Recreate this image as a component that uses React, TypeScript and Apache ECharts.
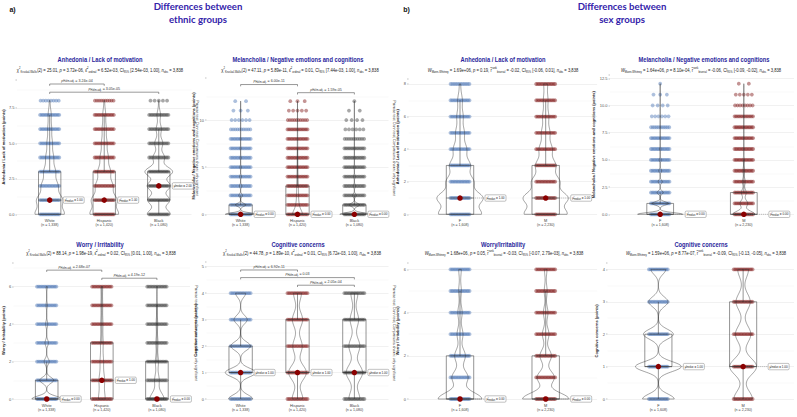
import React, { useEffect, useRef } from "react";
import * as echarts from "echarts";

const FONT = "'Liberation Sans', Arial, sans-serif";
const HEAD_FONT = "Lato, 'Open Sans', sans-serif";

const ETHNIC_GROUPS = ["White", "Hispanic", "Black"];
const SEX_GROUPS = ["F", "M"];

// respondents at each score (array index = score), one row per group
const anhedoniaByEthnicity = [
  [380, 330, 210, 150, 100, 70, 50, 40, 8],
  [390, 340, 230, 170, 110, 75, 55, 40, 10],
  [200, 190, 200, 240, 100, 70, 45, 30, 5],
];
const melancholiaByEthnicity = [
  [752, 262, 92, 62, 46, 36, 28, 22, 17, 10, 6, 3, 2],
  [720, 200, 130, 110, 72, 52, 42, 32, 26, 18, 10, 5, 3],
  [602, 220, 80, 50, 40, 30, 20, 15, 10, 6, 4, 2, 1],
];
const worryByEthnicity = [
  [700, 330, 120, 80, 50, 30, 28],
  [400, 330, 200, 160, 130, 100, 100],
  [560, 180, 120, 80, 60, 40, 40],
];
const cognitiveByEthnicity = [
  [330, 420, 270, 180, 138],
  [270, 450, 240, 260, 200],
  [220, 330, 220, 170, 140],
];
const anhedoniaBySex = [
  [405, 430, 255, 195, 125, 82, 60, 44, 12],
  [560, 580, 360, 260, 170, 110, 80, 60, 50],
];
const melancholiaBySex = [
  [900, 330, 122, 82, 57, 42, 30, 20, 11, 6, 4, 3, 1],
  [1150, 400, 250, 150, 90, 60, 45, 35, 22, 13, 8, 5, 2],
];
const worryBySex = [
  [820, 300, 200, 110, 80, 50, 48],
  [1130, 420, 280, 160, 110, 70, 60],
];
const cognitiveBySex = [
  [360, 520, 340, 220, 168],
  [480, 700, 400, 370, 280],
];

// significant pairwise Dunn tests: group a, group b, Holm-adjusted p
const anhedoniaEthnicPairs: [number, number, string][] = [[0, 1, "3.24e-04"], [0, 2, "3.05e-05"]];
const melancholiaEthnicPairs: [number, number, string][] = [[0, 1, "6.00e-11"], [1, 2, "1.59e-05"]];
const worryEthnicPairs: [number, number, string][] = [[0, 1, "2.68e-07"], [1, 2, "4.19e-12"]];
const cognitiveEthnicPairs: [number, number, string][] = [[0, 1, "6.92e-11"], [0, 2, "0.03"], [1, 2, "2.05e-04"]];

// omnibus tests: statistic, p, effect size, CI low, CI high
const kruskalAnhedonia = ["25.01", "3.72e-06", "6.52e-03", "2.54e-03", "1.00"];
const kruskalMelancholia = ["47.11", "5.89e-11", "0.01", "7.44e-03", "1.00"];
const kruskalWorry = ["88.14", "1.98e-19", "0.02", "0.01", "1.00"];
const kruskalCognitive = ["44.78", "1.89e-10", "0.01", "6.72e-03", "1.00"];
const mannWhitneyAnhedonia = ["1.69e+06", "0.19", "-0.02", "-0.06", "0.01"];
const mannWhitneyMelancholia = ["1.64e+06", "8.10e-04", "-0.06", "-0.09", "-0.02"];
const mannWhitneyWorry = ["1.68e+06", "0.05", "-0.03", "-0.07", "2.79e-03"];
const mannWhitneyCognitive = ["1.59e+06", "8.77e-07", "-0.09", "-0.13", "-0.05"];

const ETHNIC_COLORS = ["#4a73b3", "#7c1111", "#3d3d3d"];
const SEX_COLORS = ["#4a73b3", "#7c1111"];

const sum = (a: number[]) => a.reduce((s, v) => s + v, 0);
const fmtN = (n: number) => n.toLocaleString("en-US");

function valueAtRank(c: number[], idx: number) {
  let cum = 0;
  for (let k = 0; k < c.length; k++) {
    cum += c[k];
    if (idx < cum) return k;
  }
  return c.length - 1;
}
function quantile(c: number[], p: number) {
  const h = (sum(c) - 1) * p;
  const lo = Math.floor(h);
  const a = valueAtRank(c, lo);
  const b = valueAtRank(c, lo + 1);
  return a + (h - lo) * (b - a);
}
function describe(c: number[]) {
  const n = sum(c);
  const mean = c.reduce((s, v, k) => s + v * k, 0) / n;
  const sd = Math.sqrt(c.reduce((s, v, k) => s + v * (k - mean) ** 2, 0) / (n - 1));
  const q1 = quantile(c, 0.25);
  const med = quantile(c, 0.5);
  const q3 = quantile(c, 0.75);
  const iqr = q3 - q1;
  const levels = c.map((v, k) => (v > 0 ? k : -1)).filter((k) => k >= 0);
  const lo = Math.min(...levels.filter((k) => k >= q1 - 1.5 * iqr));
  const hi = Math.max(...levels.filter((k) => k <= q3 + 1.5 * iqr));
  // Silverman's rule of thumb (R's bw.nrd0)
  const bw = 0.9 * Math.min(sd, iqr / 1.34) * Math.pow(n, -0.2);
  return { n, q1, med, q3, lo, hi, bw, min: levels[0], max: levels[levels.length - 1] };
}
function kde(c: number[], bw: number, y: number) {
  const n = sum(c);
  let d = 0;
  for (let k = 0; k < c.length; k++) d += c[k] * Math.exp(-0.5 * ((y - k) / bw) ** 2);
  return d / (n * bw * Math.sqrt(2 * Math.PI));
}
function violinProfile(c: number[]) {
  const s = describe(c);
  const steps = 160;
  const pts: [number, number][] = [];
  for (let j = 0; j <= steps; j++) {
    const y = s.min + ((s.max - s.min) * j) / steps;
    pts.push([y, kde(c, s.bw, y)]);
  }
  return pts;
}

type Seg = [string, string];
const rich = (segs: Seg[]) => segs.map(([k, t]) => `{${k}|${t}}`).join("");

function kruskalLine(r: string[], n: number): Seg[] {
  return [
    ["t", "χ"], ["sp", "2"], ["sb", "Kruskal-Wallis"], ["t", `(2) = ${r[0]}, `],
    ["i", "p"], ["t", ` = ${r[1]}, `], ["t", "ε̂"], ["sp", "2"], ["sb", "ordinal"],
    ["t", ` = ${r[2]}, CI`], ["sb", "95%"], ["t", ` [${r[3]}, ${r[4]}], `],
    ["i", "n"], ["sb", "obs"], ["t", ` = ${fmtN(n)}`],
  ];
}
function mannWhitneyLine(r: string[], n: number): Seg[] {
  return [
    ["i", "W"], ["sb", "Mann-Whitney"], ["t", ` = ${r[0]}, `],
    ["i", "p"], ["t", ` = ${r[1]}, `], ["t", "r̂"], ["sp", "rank"], ["sb", "biserial"],
    ["t", ` = ${r[2]}, CI`], ["sb", "95%"], ["t", ` [${r[3]}, ${r[4]}], `],
    ["i", "n"], ["sb", "obs"], ["t", ` = ${fmtN(n)}`],
  ];
}

const SUB_RICH = {
  t: { fontSize: 5.3, fill: "#222", fontFamily: FONT, lineHeight: 7.5, verticalAlign: "middle" },
  i: { fontSize: 5.3, fill: "#222", fontFamily: FONT, fontStyle: "italic", lineHeight: 7.5, verticalAlign: "middle" },
  sb: { fontSize: 3.4, fill: "#222", fontFamily: FONT, lineHeight: 3.8, verticalAlign: "bottom" },
  sp: { fontSize: 3.4, fill: "#222", fontFamily: FONT, lineHeight: 3.8, verticalAlign: "top" },
};
const P_RICH = {
  t: { fontSize: 3.6, fill: "#333", fontFamily: FONT, lineHeight: 5, verticalAlign: "middle" },
  i: { fontSize: 3.6, fill: "#333", fontFamily: FONT, fontStyle: "italic", lineHeight: 5, verticalAlign: "middle" },
  s: { fontSize: 2.6, fill: "#333", fontFamily: FONT, lineHeight: 2.8, verticalAlign: "bottom" },
};
const M_RICH = {
  t: { fontSize: 3.7, fill: "#222", fontFamily: FONT, lineHeight: 5, verticalAlign: "middle" },
  s: { fontSize: 2.6, fill: "#222", fontFamily: FONT, lineHeight: 2.9, verticalAlign: "bottom" },
};

interface Panel {
  title: string;
  yName: string;
  groups: string[];
  counts: number[][];
  colors: string[];
  pairs: [number, number, string][];
  subtitle: Seg[];
  dunnCaption: boolean;
  grid: { left: number; top: number; width: number; height: number };
  yMax: number;
  yStep: number;
  yDecimals: number;
  titlePos: [number, number];
  subPos: [number, number];
  captionPos?: [number, number];
  boxHalf: number;
  jitterHalf: number;
  labelOffset: number;
}

const ethnicLook = { groups: ETHNIC_GROUPS, colors: ETHNIC_COLORS, dunnCaption: true, boxHalf: 0.205, jitterHalf: 0.19, labelOffset: 13.5 };
const sexLook = { groups: SEX_GROUPS, colors: SEX_COLORS, dunnCaption: false, pairs: [] as [number, number, string][], boxHalf: 0.16, jitterHalf: 0.12, labelOffset: 25 };

const PANELS: Panel[] = [
  {
    ...ethnicLook, title: "Anhedonia / Lack of motivation", yName: "Anhedonia / Lack of motivation (points)",
    counts: anhedoniaByEthnicity, pairs: anhedoniaEthnicPairs,
    subtitle: kruskalLine(kruskalAnhedonia, sum(anhedoniaByEthnicity.map(sum))),
    grid: { left: 9.5, top: 79.4, width: 182, height: 134.9 }, yMax: 9.5, yStep: 2.5, yDecimals: 1,
    titlePos: [100, 59], subPos: [100, 70], captionPos: [196.5, 148],
  },
  {
    ...ethnicLook, title: "Melancholia / Negative emotions and cognitions", yName: "Melancholia / Negative emotions and cognitions (points)",
    counts: melancholiaByEthnicity, pairs: melancholiaEthnicPairs,
    subtitle: kruskalLine(kruskalMelancholia, sum(melancholiaByEthnicity.map(sum))),
    grid: { left: 206.5, top: 77.6, width: 182, height: 136.7 }, yMax: 14.5, yStep: 5, yDecimals: 0,
    titlePos: [298, 59], subPos: [300, 70], captionPos: [394, 148],
  },
  {
    ...ethnicLook, title: "Worry / Irritability", yName: "Worry / Irritability (points)",
    counts: worryByEthnicity, pairs: worryEthnicPairs,
    subtitle: kruskalLine(kruskalWorry, sum(worryByEthnicity.map(sum))),
    grid: { left: 8, top: 262.3, width: 182, height: 136.7 }, yMax: 7.3, yStep: 2, yDecimals: 0,
    titlePos: [100, 244], subPos: [101, 253], captionPos: [195.5, 333],
  },
  {
    ...ethnicLook, title: "Cognitive concerns", yName: "Cognitive concerns (points)",
    counts: cognitiveByEthnicity, pairs: cognitiveEthnicPairs,
    subtitle: kruskalLine(kruskalCognitive, sum(cognitiveByEthnicity.map(sum))),
    grid: { left: 206.5, top: 261.4, width: 182, height: 137.6 }, yMax: 5.2, yStep: 1, yDecimals: 0,
    titlePos: [298, 244], subPos: [302, 253], captionPos: [394, 333],
  },
  {
    ...sexLook, title: "Anhedonia / Lack of motivation", yName: "Anhedonia / Lack of motivation (points)",
    counts: anhedoniaBySex,
    subtitle: mannWhitneyLine(mannWhitneyAnhedonia, sum(anhedoniaBySex.map(sum))),
    grid: { left: 408.6, top: 79.1, width: 188.5, height: 135.2 }, yMax: 8.3, yStep: 2, yDecimals: 0,
    titlePos: [503, 59], subPos: [503, 70],
  },
  {
    ...sexLook, title: "Melancholia / Negative emotions and cognitions", yName: "Melancholia / Negative emotions and cognitions (points)",
    counts: melancholiaBySex,
    subtitle: mannWhitneyLine(mannWhitneyMelancholia, sum(melancholiaBySex.map(sum))),
    grid: { left: 610, top: 75, width: 186, height: 139.3 }, yMax: 12.8, yStep: 2.5, yDecimals: 1,
    titlePos: [704, 59], subPos: [701, 70],
  },
  {
    ...sexLook, title: "Worry/Irritability", yName: "Worry / Irritability (points)",
    counts: worryBySex,
    subtitle: mannWhitneyLine(mannWhitneyWorry, sum(worryBySex.map(sum))),
    grid: { left: 408.6, top: 262.9, width: 188.5, height: 136.1 }, yMax: 6.3, yStep: 2, yDecimals: 0,
    titlePos: [503, 244], subPos: [504, 253],
  },
  {
    ...sexLook, title: "Cognitive concerns", yName: "Cognitive concerns (points)",
    counts: cognitiveBySex,
    subtitle: mannWhitneyLine(mannWhitneyCognitive, sum(cognitiveBySex.map(sum))),
    grid: { left: 607.5, top: 262.9, width: 188, height: 136.1 }, yMax: 4.2, yStep: 1, yDecimals: 0,
    titlePos: [701, 244], subPos: [706, 253],
  },
];

const VIOLIN_HALF = 0.27;

function panelSeries(p: Panel, i: number) {
  const stats = p.counts.map(describe);
  const profiles = p.counts.map(violinProfile);
  const maxD = Math.max(...profiles.map((pr) => Math.max(...pr.map((q) => q[1]))));
  const axis = { xAxisIndex: i, yAxisIndex: i, coordinateSystem: "cartesian2d" };
  const series: any[] = [];

  // jittered responses, one strip per score level
  const dotData: number[][] = [];
  p.counts.forEach((c, g) => c.forEach((v, k) => { if (v > 0) dotData.push([g + 1, k, v, g]); }));
  series.push({
    type: "custom", ...axis, silent: true, z: 1, encode: { x: 0, y: 1 }, data: dotData,
    renderItem: (_: any, api: any) => {
      const x = api.value(0), y = api.value(1), cnt = api.value(2), g = api.value(3);
      const c = api.coord([x, y]);
      const half = api.size([p.jitterHalf, 0])[0];
      const m = Math.min(cnt, 14);
      const children: any[] = [];
      for (let j = 0; j < m; j++) {
        const cx = c[0] - half + (2 * half * (j + 0.5)) / m;
        children.push({ type: "circle", shape: { cx, cy: c[1], r: 1.9 }, style: { fill: p.colors[g], opacity: 0.45 } });
      }
      return { type: "group", children };
    },
  });

  // box and whiskers
  series.push({
    type: "custom", ...axis, silent: true, z: 2, encode: { x: 0, y: 1 },
    data: stats.map((s, g) => [g + 1, s.med, s.q1, s.q3, s.lo, s.hi]),
    renderItem: (_: any, api: any) => {
      const x = api.value(0);
      const med = api.value(1), q1 = api.value(2), q3 = api.value(3), lo = api.value(4), hi = api.value(5);
      const tl = api.coord([x - p.boxHalf, q3]);
      const br = api.coord([x + p.boxHalf, q1]);
      const m = api.coord([x, med]);
      const top = api.coord([x, hi]);
      const bot = api.coord([x, lo]);
      const ln = { stroke: "#2b2b2b", lineWidth: 0.5, fill: "none" };
      return {
        type: "group",
        children: [
          { type: "rect", shape: { x: tl[0], y: tl[1], width: br[0] - tl[0], height: br[1] - tl[1] }, style: ln },
          { type: "line", shape: { x1: tl[0], y1: m[1], x2: br[0], y2: m[1] }, style: ln },
          { type: "line", shape: { x1: m[0], y1: tl[1], x2: m[0], y2: top[1] }, style: ln },
          { type: "line", shape: { x1: m[0], y1: br[1], x2: m[0], y2: bot[1] }, style: ln },
        ],
      };
    },
  });

  // violins (kernel density, trimmed to the observed range, area-scaled)
  series.push({
    type: "custom", ...axis, silent: true, z: 3, encode: { x: 0, y: 1 },
    data: stats.map((s, g) => [g + 1, s.med, g]),
    renderItem: (_: any, api: any) => {
      const x = api.value(0);
      const prof = profiles[api.value(2)];
      const right = prof.map(([y, d]) => api.coord([x + (d / maxD) * VIOLIN_HALF, y]));
      const left = prof.slice().reverse().map(([y, d]) => api.coord([x - (d / maxD) * VIOLIN_HALF, y]));
      return { type: "polygon", shape: { points: right.concat(left) }, style: { fill: "none", stroke: "#333", lineWidth: 0.45 } };
    },
  });

  // significance brackets
  if (p.pairs.length) {
    const topLevel = Math.max(...stats.map((s) => s.max));
    const m = p.pairs.length;
    series.push({
      type: "custom", ...axis, silent: true, z: 4, encode: { x: 0, y: 2 },
      data: p.pairs.map(([a, b], j) => [a + 1, b + 1, topLevel * (1.075 + 0.072 * (m - 1 - j)), j]),
      renderItem: (_: any, api: any) => {
        const y = api.value(2);
        const A = api.coord([api.value(0), y]);
        const B = api.coord([api.value(1), y]);
        const tip = 1.8;
        const label = p.pairs[api.value(3)][2];
        return {
          type: "group",
          children: [
            { type: "polyline", shape: { points: [[A[0], A[1] + tip], [A[0], A[1]], [B[0], B[1]], [B[0], B[1] + tip]] }, style: { fill: "none", stroke: "#333", lineWidth: 0.5 } },
            {
              type: "text", x: (A[0] + B[0]) / 2, y: A[1] - 0.6,
              style: { text: rich([["i", "p"], ["s", "Holm-adj."], ["t", ` = ${label}`]]), rich: P_RICH, align: "center", verticalAlign: "bottom", textAlign: "center", textVerticalAlign: "bottom" },
            },
          ],
        };
      },
    });
  }

  // medians
  series.push({
    type: "scatter", ...axis, silent: true, z: 5, symbol: "circle", symbolSize: 5.5,
    itemStyle: { color: "#8b0000", opacity: 1 },
    data: stats.map((s, g) => [g + 1, s.med]),
  });

  // median labels
  series.push({
    type: "custom", ...axis, silent: true, z: 6, encode: { x: 0, y: 1 },
    data: stats.map((s, g) => [g + 1, s.med]),
    renderItem: (_: any, api: any) => {
      const med = api.value(1);
      const c = api.coord([api.value(0), med]);
      const x0 = c[0] + p.labelOffset;
      const w = 21, h = 6.4;
      return {
        type: "group",
        children: [
          { type: "line", shape: { x1: c[0] + 3, y1: c[1], x2: x0, y2: c[1] }, style: { stroke: "#666", lineWidth: 0.4, lineDash: [1.2, 0.8] } },
          { type: "rect", shape: { x: x0, y: c[1] - h / 2, width: w, height: h, r: 1.2 }, style: { fill: "#fff", stroke: "#777", lineWidth: 0.45 } },
          {
            type: "text", x: x0 + w / 2, y: c[1], scaleX: 0.82,
            style: { text: rich([["t", "μ̂"], ["s", "median"], ["t", ` = ${med.toFixed(2)}`]]), rich: M_RICH, align: "center", verticalAlign: "middle", textAlign: "center", textVerticalAlign: "middle" },
          },
        ],
      };
    },
  });
  return series;
}

function panelGraphics(p: Panel) {
  const els: any[] = [
    {
      type: "text", x: p.titlePos[0], y: p.titlePos[1], scaleX: 0.82, silent: true,
      style: { text: p.title, fontSize: 7, fontWeight: "bold", fontFamily: FONT, fill: "#2a1f9c", align: "center", verticalAlign: "middle", textAlign: "center", textVerticalAlign: "middle" },
    },
    {
      type: "text", x: p.subPos[0], y: p.subPos[1], scaleX: 0.78, silent: true,
      style: { text: rich(p.subtitle), rich: SUB_RICH, align: "center", verticalAlign: "middle", textAlign: "center", textVerticalAlign: "middle" },
    },
  ];
  if (p.dunnCaption && p.captionPos) {
    els.push({
      type: "text", x: p.captionPos[0], y: p.captionPos[1], rotation: -Math.PI / 2, silent: true,
      style: { text: "Pairwise test: Dunn test; Comparisons shown: only significant", fontSize: 3.5, fontFamily: FONT, fill: "#333", align: "center", verticalAlign: "middle", textAlign: "center", textVerticalAlign: "middle" },
    });
  }
  return els;
}

function headerGraphics() {
  const head = (x: number, y: number, text: string) => ({
    type: "text", x, y, silent: true,
    style: { text, fontSize: 9.6, fontWeight: "bold", fontFamily: HEAD_FONT, fill: "#3322aa", align: "center", verticalAlign: "middle", textAlign: "center", textVerticalAlign: "middle" },
  });
  const tag = (x: number, text: string) => ({
    type: "text", x, y: 9.5, silent: true,
    style: { text, fontSize: 7, fontWeight: "bold", fontFamily: FONT, fill: "#111", align: "center", verticalAlign: "middle", textAlign: "center", textVerticalAlign: "middle" },
  });
  return [
    tag(12.5, "a)"), head(198, 6.5, "Differences between"), head(198, 19.5, "ethnic groups"),
    tag(406.5, "b)"), head(622, 6.5, "Differences between"), head(622, 19.5, "sex groups"),
  ];
}

function buildOption() {
  return {
    animation: false,
    backgroundColor: "#ffffff",
    textStyle: { fontFamily: FONT },
    grid: PANELS.map((p) => ({ ...p.grid, containLabel: false })),
    xAxis: PANELS.map((p, i) => ({
      gridIndex: i, type: "value", min: 0.4, max: p.groups.length + 0.6,
      axisLine: { show: false }, axisTick: { show: false }, splitLine: { show: false },
      axisLabel: {
        margin: 3.5, hideOverlap: false,
        formatter: (v: number) => {
          const k = Math.round(v);
          if (Math.abs(v - k) > 1e-6 || k < 1 || k > p.groups.length) return "";
          return `{g|${p.groups[k - 1]}}\n{n|(n = ${fmtN(sum(p.counts[k - 1]))})}`;
        },
        rich: {
          g: { fontSize: 3.9, color: "#444", lineHeight: 5, fontFamily: FONT },
          n: { fontSize: 3.6, color: "#444", lineHeight: 5, fontFamily: FONT },
        },
      },
    })),
    yAxis: PANELS.map((p, i) => ({
      gridIndex: i, type: "value", min: 0, max: p.yMax, interval: p.yStep,
      name: p.yName, nameLocation: "middle", nameGap: 6, nameRotate: 90,
      nameTextStyle: { fontSize: 4, fontWeight: "bold", color: "#222", fontFamily: FONT },
      axisLine: { show: false },
      axisTick: { show: true, length: 1.5, lineStyle: { color: "#666", width: 0.4 } },
      axisLabel: {
        fontSize: 4, color: "#555", margin: 2.5, fontFamily: FONT,
        formatter: (v: number) => {
          const r = v / p.yStep;
          if (Math.abs(r - Math.round(r)) > 1e-6) return "";
          return v.toFixed(p.yDecimals);
        },
      },
      splitLine: { show: true, showMaxLine: false, lineStyle: { color: "#e3e3e3", width: 0.5 } },
      minorTick: { show: false, splitNumber: 2 },
      minorSplitLine: { show: true, lineStyle: { color: "#f1f1f1", width: 0.4 } },
    })),
    series: PANELS.flatMap((p, i) => panelSeries(p, i)),
    graphic: { elements: [...headerGraphics(), ...PANELS.flatMap(panelGraphics)] },
  };
}

export default function App() {
  const ref = useRef<HTMLDivElement>(null);
  useEffect(() => {
    if (!ref.current) return;
    const chart = echarts.init(ref.current, undefined, { renderer: "svg" });
    chart.setOption(buildOption() as any);
    return () => chart.dispose();
  }, []);
  return <div ref={ref} style={{ position: "absolute", left: 0, top: 0, width: 797, height: 417, background: "#fff" }} />;
}
